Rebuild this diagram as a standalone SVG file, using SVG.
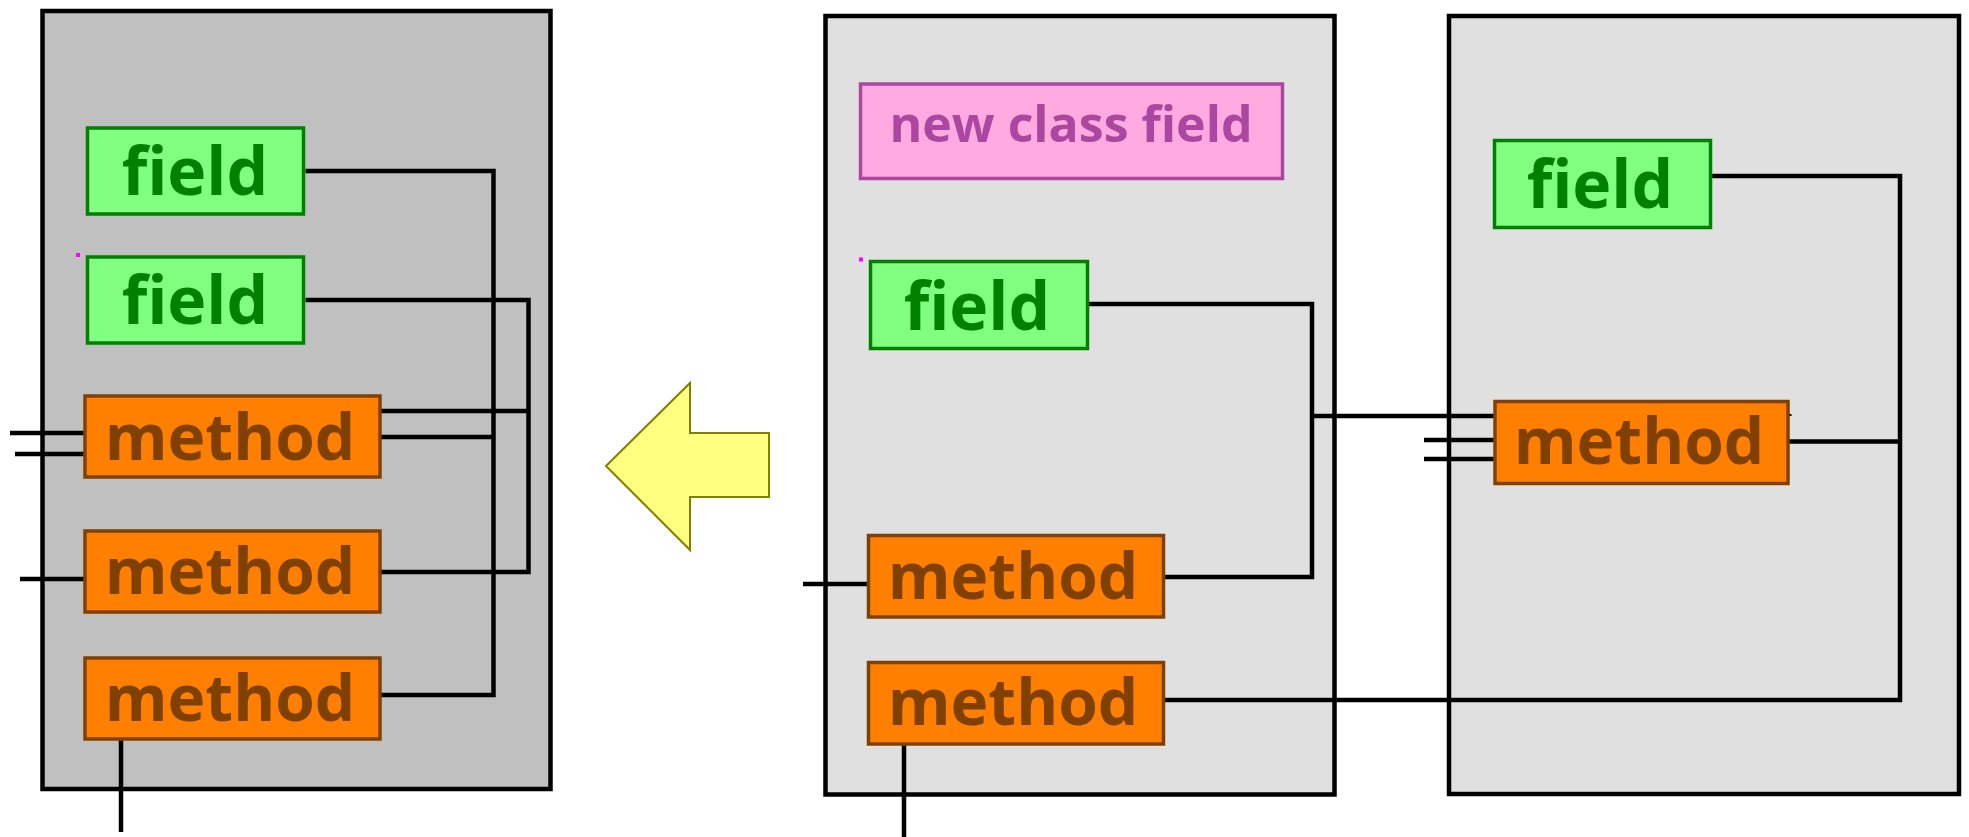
<svg xmlns="http://www.w3.org/2000/svg" width="1969" height="837" viewBox="0 0 1969 837">
  <style>
    .cls { stroke: #000; stroke-width: 4.5; }
    .cls-old { fill: #c0c0c0; }
    .cls-new { fill: #e0e0e0; }
    .field rect { fill: #80ff80; stroke: #008000; stroke-width: 3.5; }
    .field text { fill: #008000; }
    .method rect { fill: #ff8000; stroke: #804000; stroke-width: 3.5; }
    .method text { fill: #804000; font-size: 64px; }
    .newfield rect { fill: #ffabe2; stroke: #ab47a0; stroke-width: 3.5; }
    .newfield text { fill: #ab47a0; font-size: 50px; }
    text { font-family: "Open Sans", "DejaVu Sans", sans-serif; font-weight: bold; font-size: 66px; text-anchor: middle; }
    .wire { fill: none; stroke: #000; stroke-width: 4.5; stroke-linejoin: miter; }
    .marker { fill: #ff00ff; }
  </style>

  <!-- class outlines -->
  <rect id="class-left" class="cls cls-old" x="42.5" y="11" width="508" height="778"/>
  <rect id="class-middle" class="cls cls-new" x="825.5" y="16" width="509" height="778.5"/>
  <rect id="class-right" class="cls cls-new" x="1449" y="16" width="510" height="778"/>

  <!-- refactoring direction arrow -->
  <polygon id="arrow" points="606,466 690,383 690,433 769,433 769,497 690,497 690,550" fill="#ffff80" stroke="#808000" stroke-width="2"/>

  <!-- connectors -->
  <g id="connectors" class="wire">
    <!-- left class -->
    <path d="M305.5,171 H493.5 V695 H381"/>
    <path d="M305.5,300 H528.5 V572 H381"/>
    <path d="M381,411 H528.5"/>
    <path d="M381,437 H493.5"/>
    <path d="M10,433 H85"/>
    <path d="M15,454 H85"/>
    <path d="M20,579 H85"/>
    <path d="M121,740 V832"/>
    <!-- middle and right classes -->
    <path d="M1089,304 H1312 V577 H1164"/>
    <path d="M1312,416 H1495"/>
    <path d="M1424,440 H1495"/>
    <path d="M1424,459 H1495"/>
    <path d="M803,584 H868.5"/>
    <path d="M1164,700 H1900 V176 H1711"/>
    <path d="M1788.5,441.5 H1900"/>
    <path d="M904,745 V837"/>
    <path d="M1788.5,415 h3" stroke-width="2"/>
  </g>

  <!-- left class members -->
  <g id="left-field-1" class="field">
    <rect x="87.5" y="128" width="216" height="86"/>
    <text x="195" y="195">field</text>
  </g>
  <g id="left-field-2" class="field">
    <rect x="87.5" y="257" width="216" height="86"/>
    <text x="195" y="324">field</text>
  </g>
  <g id="left-method-1" class="method">
    <rect x="85" y="396" width="295" height="81"/>
    <text x="230" y="460">method</text>
  </g>
  <g id="left-method-2" class="method">
    <rect x="85" y="531" width="295" height="81"/>
    <text x="230" y="594">method</text>
  </g>
  <g id="left-method-3" class="method">
    <rect x="85" y="658" width="295" height="81"/>
    <text x="230" y="721">method</text>
  </g>
  <rect class="marker" x="76" y="253" width="4" height="4"/>

  <!-- middle class members -->
  <g id="middle-new-field" class="newfield">
    <rect x="860.5" y="84" width="422" height="94.5"/>
    <text x="1071" y="142">new class field</text>
  </g>
  <g id="middle-field" class="field">
    <rect x="870.5" y="261.5" width="217" height="87"/>
    <text x="977" y="330">field</text>
  </g>
  <g id="middle-method-1" class="method">
    <rect x="868.5" y="535.5" width="295" height="81.5"/>
    <text x="1013" y="599">method</text>
  </g>
  <g id="middle-method-2" class="method">
    <rect x="868.5" y="662.5" width="295" height="81.5"/>
    <text x="1013" y="725">method</text>
  </g>
  <rect class="marker" x="859" y="257.5" width="4" height="4"/>

  <!-- right class members -->
  <g id="right-field" class="field">
    <rect x="1494.5" y="140.5" width="216" height="87"/>
    <text x="1600" y="208">field</text>
  </g>
  <g id="right-method" class="method">
    <rect x="1495" y="401.5" width="293" height="82"/>
    <text x="1639" y="464">method</text>
  </g>
</svg>
